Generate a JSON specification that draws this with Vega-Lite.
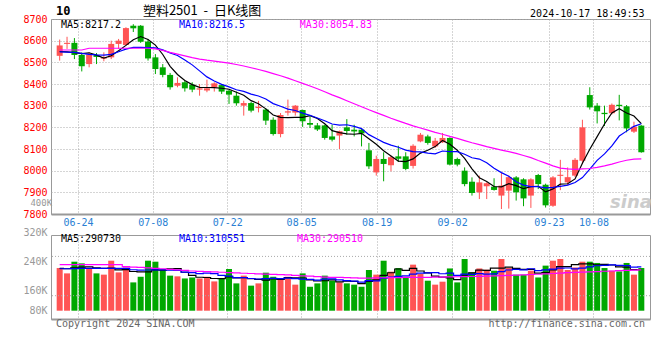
{
"$schema": "https://vega.github.io/schema/vega-lite/v6.json",
"padding": {"left": 22, "top": 4, "right": 0, "bottom": 0},
"background": "white",
"config": {"view": {"stroke": "#999999", "strokeWidth": 1}, "font": "DejaVu Sans Mono", "axis": {"labelOverlap": false}},
"spacing": 21,
"bounds": "flush",
"datasets": {"k": [
{"i":0,"d":"06-19","o":8530,"h":8605,"l":8508,"c":8578,"v":303000,"m5":8550,"m10":8548,"m30":8557,"vm5":300000,"vm10":298000,"vm30":327000},
{"i":1,"d":"06-20","o":8585,"h":8618,"l":8562,"c":8590,"v":265000,"m5":8548,"m10":8547,"m30":8557,"vm5":298000,"vm10":298000,"vm30":327000},
{"i":2,"d":"06-21","o":8590,"h":8612,"l":8515,"c":8534,"v":348000,"m5":8545,"m10":8546,"m30":8557,"vm5":305000,"vm10":299000,"vm30":327000},
{"i":3,"d":"06-24","o":8534,"h":8546,"l":8458,"c":8482,"v":336000,"m5":8540,"m10":8541,"m30":8557,"vm5":310000,"vm10":300000,"vm30":327000},
{"i":4,"d":"06-25","o":8492,"h":8546,"l":8477,"c":8536,"v":303000,"m5":8544,"m10":8537,"m30":8565,"vm5":311000,"vm10":300000,"vm30":327000},
{"i":5,"d":"06-26","o":8534,"h":8543,"l":8492,"c":8525,"v":265000,"m5":8533.4,"m10":8534,"m30":8565,"vm5":303400,"vm10":300000,"vm30":327000},
{"i":6,"d":"06-27","o":8517,"h":8546,"l":8505,"c":8523,"v":256000,"m5":8520,"m10":8533,"m30":8565,"vm5":301600,"vm10":301000,"vm30":327000},
{"i":7,"d":"06-28","o":8523,"h":8600,"l":8515,"c":8585,"v":355000,"m5":8530.2,"m10":8537,"m30":8565,"vm5":303000,"vm10":301000,"vm30":327000},
{"i":8,"d":"07-01","o":8585,"h":8608,"l":8562,"c":8600,"v":272000,"m5":8553.8,"m10":8549,"m30":8565,"vm5":290200,"vm10":301000,"vm30":327000},
{"i":9,"d":"07-02","o":8580,"h":8662,"l":8577,"c":8658,"v":307000,"m5":8578.2,"m10":8561.1,"m30":8565,"vm5":291000,"vm10":301000,"vm30":313000},
{"i":10,"d":"07-03","o":8669,"h":8676,"l":8640,"c":8657,"v":201000,"m5":8604.6,"m10":8569,"m30":8565,"vm5":278200,"vm10":290800,"vm30":310000},
{"i":11,"d":"07-04","o":8669,"h":8672,"l":8590,"c":8595,"v":241000,"m5":8619,"m10":8569.5,"m30":8565,"vm5":275200,"vm10":288400,"vm30":307000},
{"i":12,"d":"07-05","o":8596,"h":8608,"l":8508,"c":8518,"v":355000,"m5":8605.6,"m10":8567.9,"m30":8565,"vm5":275200,"vm10":289100,"vm30":304000},
{"i":13,"d":"07-08","o":8523,"h":8538,"l":8446,"c":8469,"v":348000,"m5":8579.4,"m10":8566.6,"m30":8562,"vm5":290400,"vm10":290300,"vm30":301000},
{"i":14,"d":"07-09","o":8477,"h":8492,"l":8431,"c":8442,"v":296000,"m5":8536.2,"m10":8557.2,"m30":8555,"vm5":288200,"vm10":289600,"vm30":298000},
{"i":15,"d":"07-10","o":8442,"h":8451,"l":8374,"c":8385,"v":249000,"m5":8481.8,"m10":8543.2,"m30":8546,"vm5":297800,"vm10":288000,"vm30":294000},
{"i":16,"d":"07-11","o":8392,"h":8431,"l":8385,"c":8405,"v":244000,"m5":8443.8,"m10":8531.4,"m30":8538,"vm5":298400,"vm10":286800,"vm30":290000},
{"i":17,"d":"07-12","o":8408,"h":8415,"l":8365,"c":8380,"v":229000,"m5":8416.2,"m10":8510.9,"m30":8530,"vm5":273200,"vm10":274200,"vm30":286000},
{"i":18,"d":"07-15","o":8397,"h":8408,"l":8362,"c":8374,"v":236000,"m5":8397.2,"m10":8488.3,"m30":8522,"vm5":250800,"vm10":270600,"vm30":282000},
{"i":19,"d":"07-16","o":8374,"h":8400,"l":8346,"c":8380,"v":229000,"m5":8384.8,"m10":8460.5,"m30":8515,"vm5":237400,"vm10":262800,"vm30":279000},
{"i":20,"d":"07-17","o":8370,"h":8420,"l":8362,"c":8380,"v":241000,"m5":8383.8,"m10":8432.8,"m30":8510,"vm5":235800,"vm10":266800,"vm30":277000},
{"i":21,"d":"07-18","o":8385,"h":8408,"l":8365,"c":8403,"v":208000,"m5":8383.4,"m10":8413.6,"m30":8506,"vm5":228600,"vm10":263500,"vm30":275000},
{"i":22,"d":"07-19","o":8395,"h":8400,"l":8354,"c":8365,"v":225000,"m5":8380.4,"m10":8398.3,"m30":8501,"vm5":227800,"vm10":250500,"vm30":273000},
{"i":23,"d":"07-22","o":8369,"h":8374,"l":8308,"c":8351,"v":296000,"m5":8375.8,"m10":8386.5,"m30":8496,"vm5":239800,"vm10":245300,"vm30":271000},
{"i":24,"d":"07-23","o":8346,"h":8365,"l":8300,"c":8311,"v":194000,"m5":8362,"m10":8373.4,"m30":8490,"vm5":232800,"vm10":235100,"vm30":269000},
{"i":25,"d":"07-24","o":8300,"h":8323,"l":8254,"c":8312,"v":249000,"m5":8348.4,"m10":8366.1,"m30":8483,"vm5":234400,"vm10":235100,"vm30":266000},
{"i":26,"d":"07-25","o":8312,"h":8318,"l":8269,"c":8277,"v":178000,"m5":8323.2,"m10":8353.3,"m30":8475,"vm5":228400,"vm10":228500,"vm30":264000},
{"i":27,"d":"07-26","o":8289,"h":8322,"l":8269,"c":8295,"v":194000,"m5":8309.2,"m10":8344.8,"m30":8467,"vm5":222200,"vm10":225000,"vm30":262000},
{"i":28,"d":"07-29","o":8282,"h":8288,"l":8211,"c":8231,"v":270000,"m5":8285.2,"m10":8330.5,"m30":8458,"vm5":217000,"vm10":228400,"vm30":260000},
{"i":29,"d":"07-30","o":8235,"h":8246,"l":8162,"c":8169,"v":241000,"m5":8256.8,"m10":8309.4,"m30":8448,"vm5":226400,"vm10":229600,"vm30":258000},
{"i":30,"d":"07-31","o":8169,"h":8266,"l":8154,"c":8257,"v":229000,"m5":8245.8,"m10":8297.1,"m30":8438,"vm5":222400,"vm10":228400,"vm30":256000},
{"i":31,"d":"08-01","o":8268,"h":8328,"l":8254,"c":8274,"v":241000,"m5":8245.2,"m10":8284.2,"m30":8427,"vm5":235000,"vm10":231700,"vm30":254000},
{"i":32,"d":"08-02","o":8268,"h":8303,"l":8254,"c":8300,"v":185000,"m5":8246.2,"m10":8277.7,"m30":8415,"vm5":233200,"vm10":227700,"vm30":251000},
{"i":33,"d":"08-05","o":8280,"h":8282,"l":8202,"c":8228,"v":265000,"m5":8245.6,"m10":8265.4,"m30":8403,"vm5":232200,"vm10":224600,"vm30":248000},
{"i":34,"d":"08-06","o":8220,"h":8250,"l":8197,"c":8212,"v":170000,"m5":8254.2,"m10":8255.5,"m30":8391,"vm5":218000,"vm10":222200,"vm30":245000},
{"i":35,"d":"08-07","o":8209,"h":8220,"l":8183,"c":8190,"v":194000,"m5":8240.8,"m10":8243.3,"m30":8378,"vm5":211000,"vm10":216700,"vm30":242000},
{"i":36,"d":"08-08","o":8209,"h":8212,"l":8143,"c":8151,"v":249000,"m5":8216.2,"m10":8230.7,"m30":8364,"vm5":212600,"vm10":223800,"vm30":239000},
{"i":37,"d":"08-09","o":8158,"h":8212,"l":8135,"c":8143,"v":213000,"m5":8184.8,"m10":8215.5,"m30":8350,"vm5":218200,"vm10":225700,"vm30":237000},
{"i":38,"d":"08-12","o":8162,"h":8185,"l":8100,"c":8182,"v":201000,"m5":8175.6,"m10":8210.6,"m30":8337,"vm5":205400,"vm10":218800,"vm30":236000},
{"i":39,"d":"08-13","o":8200,"h":8238,"l":8166,"c":8183,"v":194000,"m5":8169.8,"m10":8212,"m30":8323,"vm5":210200,"vm10":214100,"vm30":235000},
{"i":40,"d":"08-14","o":8189,"h":8212,"l":8158,"c":8181,"v":185000,"m5":8168,"m10":8204.4,"m30":8309,"vm5":208400,"vm10":209700,"vm30":233000},
{"i":41,"d":"08-15","o":8189,"h":8192,"l":8112,"c":8172,"v":170000,"m5":8172.2,"m10":8194.2,"m30":8295,"vm5":192600,"vm10":202600,"vm30":232000},
{"i":42,"d":"08-16","o":8094,"h":8128,"l":8008,"c":8020,"v":289000,"m5":8147.6,"m10":8166.2,"m30":8281,"vm5":207800,"vm10":213000,"vm30":232000},
{"i":43,"d":"08-19","o":7992,"h":8069,"l":7977,"c":8054,"v":256000,"m5":8122,"m10":8148.8,"m30":8268,"vm5":218800,"vm10":212100,"vm30":233000},
{"i":44,"d":"08-20","o":8054,"h":8085,"l":7951,"c":8031,"v":355000,"m5":8091.6,"m10":8130.7,"m30":8255,"vm5":251000,"vm10":230600,"vm30":234000},
{"i":45,"d":"08-21","o":8025,"h":8069,"l":7997,"c":8062,"v":277000,"m5":8067.8,"m10":8117.9,"m30":8242,"vm5":269400,"vm10":238900,"vm30":235000},
{"i":46,"d":"08-22","o":8066,"h":8115,"l":8040,"c":8055,"v":303000,"m5":8044.4,"m10":8108.3,"m30":8230,"vm5":296000,"vm10":244300,"vm30":235000},
{"i":47,"d":"08-23","o":8066,"h":8085,"l":8002,"c":8008,"v":241000,"m5":8042,"m10":8094.8,"m30":8218,"vm5":286400,"vm10":247100,"vm30":236000},
{"i":48,"d":"08-26","o":8022,"h":8122,"l":8010,"c":8115,"v":327000,"m5":8054.2,"m10":8088.1,"m30":8207,"vm5":300600,"vm10":259700,"vm30":236000},
{"i":49,"d":"08-27","o":8135,"h":8174,"l":8131,"c":8166,"v":261000,"m5":8081.2,"m10":8086.4,"m30":8197,"vm5":281800,"vm10":266400,"vm30":237000},
{"i":50,"d":"08-28","o":8158,"h":8166,"l":8120,"c":8128,"v":213000,"m5":8094.4,"m10":8081.1,"m30":8187,"vm5":269000,"vm10":269200,"vm30":237000},
{"i":51,"d":"08-29","o":8112,"h":8151,"l":8105,"c":8138,"v":185000,"m5":8111,"m10":8077.7,"m30":8177,"vm5":245400,"vm10":270700,"vm30":238000},
{"i":52,"d":"08-30","o":8131,"h":8174,"l":8128,"c":8151,"v":206000,"m5":8139.6,"m10":8090.8,"m30":8168,"vm5":238400,"vm10":262400,"vm30":239000},
{"i":53,"d":"09-02","o":8151,"h":8154,"l":8024,"c":8028,"v":300000,"m5":8122.2,"m10":8088.2,"m30":8158,"vm5":233000,"vm10":266800,"vm30":240000},
{"i":54,"d":"09-03","o":8054,"h":8060,"l":8020,"c":8028,"v":201000,"m5":8094.6,"m10":8087.9,"m30":8149,"vm5":221000,"vm10":251400,"vm30":241000},
{"i":55,"d":"09-04","o":8000,"h":8015,"l":7928,"c":7938,"v":367000,"m5":8056.6,"m10":8075.5,"m30":8139,"vm5":251800,"vm10":260400,"vm30":242000},
{"i":56,"d":"09-05","o":7949,"h":7969,"l":7885,"c":7897,"v":272000,"m5":8008.4,"m10":8059.7,"m30":8129,"vm5":269200,"vm10":257300,"vm30":243000},
{"i":57,"d":"09-06","o":7900,"h":7977,"l":7869,"c":7946,"v":300000,"m5":7967.4,"m10":8053.5,"m30":8120,"vm5":288000,"vm10":263200,"vm30":244000},
{"i":58,"d":"09-09","o":7928,"h":7946,"l":7869,"c":7942,"v":291000,"m5":7950.2,"m10":8036.2,"m30":8111,"vm5":286200,"vm10":259600,"vm30":246000},
{"i":59,"d":"09-10","o":7926,"h":7965,"l":7908,"c":7911,"v":284000,"m5":7926.8,"m10":8010.7,"m30":8103,"vm5":302800,"vm10":261900,"vm30":247000},
{"i":60,"d":"09-11","o":7885,"h":7990,"l":7823,"c":7931,"v":367000,"m5":7925.4,"m10":7991,"m30":8095,"vm5":302800,"vm10":277300,"vm30":249000},
{"i":61,"d":"09-12","o":7908,"h":7977,"l":7825,"c":7970,"v":303000,"m5":7940,"m10":7974.2,"m30":8088,"vm5":309000,"vm10":289100,"vm30":251000},
{"i":62,"d":"09-13","o":7969,"h":7975,"l":7862,"c":7900,"v":256000,"m5":7930.8,"m10":7949.1,"m30":8080,"vm5":300200,"vm10":294100,"vm30":253000},
{"i":63,"d":"09-18","o":7960,"h":7965,"l":7836,"c":7872,"v":256000,"m5":7916.8,"m10":7933.5,"m30":8070,"vm5":293200,"vm10":289700,"vm30":255000},
{"i":64,"d":"09-19","o":7885,"h":7965,"l":7828,"c":7960,"v":284000,"m5":7926.6,"m10":7926.7,"m30":8060,"vm5":293200,"vm10":298000,"vm30":257000},
{"i":65,"d":"09-20","o":7980,"h":7985,"l":7915,"c":7938,"v":236000,"m5":7928,"m10":7926.7,"m30":8047,"vm5":267000,"vm10":284900,"vm30":259000},
{"i":66,"d":"09-23","o":7935,"h":7940,"l":7830,"c":7840,"v":320000,"m5":7902,"m10":7921,"m30":8035,"vm5":270400,"vm10":289700,"vm30":261000},
{"i":67,"d":"09-24","o":7838,"h":7975,"l":7833,"c":7969,"v":355000,"m5":7915.8,"m10":7923.3,"m30":8022,"vm5":290200,"vm10":295200,"vm30":264000},
{"i":68,"d":"09-25","o":7976,"h":8050,"l":7910,"c":7981,"v":367000,"m5":7937.6,"m10":7927.2,"m30":8012,"vm5":312400,"vm10":302800,"vm30":267000},
{"i":69,"d":"09-26","o":7946,"h":8015,"l":7932,"c":7970,"v":289000,"m5":7939.6,"m10":7933.1,"m30":8008,"vm5":313400,"vm10":303300,"vm30":270000},
{"i":70,"d":"09-27","o":7977,"h":8058,"l":7970,"c":8050,"v":307000,"m5":7962,"m10":7945,"m30":8006,"vm5":327600,"vm10":297300,"vm30":272000},
{"i":71,"d":"09-30","o":8046,"h":8235,"l":8031,"c":8200,"v":348000,"m5":8034,"m10":7968,"m30":8008,"vm5":333200,"vm10":301800,"vm30":274000},
{"i":72,"d":"10-08","o":8349,"h":8385,"l":8282,"c":8292,"v":348000,"m5":8098.6,"m10":8007.2,"m30":8010,"vm5":331800,"vm10":311000,"vm30":276000},
{"i":73,"d":"10-09","o":8300,"h":8312,"l":8218,"c":8274,"v":339000,"m5":8157.2,"m10":8047.4,"m30":8015,"vm5":326200,"vm10":319300,"vm30":278000},
{"i":74,"d":"10-10","o":8267,"h":8300,"l":8206,"c":8261,"v":303000,"m5":8215.4,"m10":8077.5,"m30":8022,"vm5":329000,"vm10":321200,"vm30":280000},
{"i":75,"d":"10-11","o":8265,"h":8310,"l":8260,"c":8304,"v":284000,"m5":8266.2,"m10":8114.1,"m30":8030,"vm5":324400,"vm10":326000,"vm30":282000},
{"i":76,"d":"10-14","o":8304,"h":8350,"l":8232,"c":8298,"v":279000,"m5":8285.8,"m10":8159.9,"m30":8040,"vm5":310600,"vm10":321900,"vm30":284000},
{"i":77,"d":"10-15","o":8297,"h":8303,"l":8177,"c":8195,"v":339000,"m5":8266.4,"m10":8182.5,"m30":8048,"vm5":308800,"vm10":320300,"vm30":286000},
{"i":78,"d":"10-16","o":8180,"h":8226,"l":8174,"c":8203,"v":256000,"m5":8252.2,"m10":8204.7,"m30":8053,"vm5":292200,"vm10":309200,"vm30":288000},
{"i":79,"d":"10-17","o":8208,"h":8210,"l":8083,"c":8085,"v":303000,"m5":8217.2,"m10":8216.5,"m30":8054.8,"vm5":290700,"vm10":310600,"vm30":290500}
]},
"vconcat": [
{
 "width": 599, "height": 195,
 "data": {"name": "k"},
 "resolve": {"axis": {"x": "independent", "y": "independent"}},
 "layer": [
  {"mark": {"type": "rule", "strokeWidth": 1},
   "encoding": {
    "x": {"field": "i", "type": "quantitative", "scale": {"domain": [-0.5, 79.5], "nice": false, "zero": false},
      "axis": {"values": [2.5, 12.65, 22.75, 32.8, 43.05, 53.3, 66.45, 72.5],
        "labelExpr": "datum.value < 5 ? '06-24' : datum.value < 15 ? '07-08' : datum.value < 25 ? '07-22' : datum.value < 35 ? '08-05' : datum.value < 45 ? '08-19' : datum.value < 60 ? '09-02' : datum.value < 70 ? '09-23' : '10-08'",
        "title": null, "ticks": false, "tickSize": 0, "domain": true, "domainColor": "#999999", "domainWidth": 2,
        "grid": true, "gridColor": "#aaaaaa", "gridDash": [1, 2], "labelColor": "#2a7fd4", "labelFont": "DejaVu Sans Mono",
        "labelFontSize": 10, "labelPadding": 3, "labelFlush": false, "labelOverlap": false}},
    "y": {"field": "l", "type": "quantitative", "scale": {"domain": [7800, 8700], "nice": false, "zero": false},
      "axis": {"values": [7800, 7900, 8000, 8100, 8200, 8300, 8400, 8500, 8600, 8700], "format": "d",
        "title": null, "ticks": false, "tickSize": 0, "domain": false, "grid": true, "gridColor": "#aaaaaa", "gridDash": [1, 2],
        "labelColor": "#ff0000", "labelFont": "DejaVu Sans Mono", "labelFontSize": 10, "labelPadding": 4, "labelOverlap": false}},
    "y2": {"field": "h"},
    "color": {"condition": {"test": "datum.c >= datum.o", "value": "#ff5454"}, "value": "#00a800"}
   }},
  {"mark": {"type": "bar", "width": 6},
   "encoding": {
    "x": {"field": "i", "type": "quantitative", "axis": null},
    "y": {"field": "o", "type": "quantitative", "axis": null},
    "y2": {"field": "c"},
    "color": {"condition": {"test": "datum.c >= datum.o", "value": "#ff5454"}, "value": "#00a800"}
   }},
  {"mark": {"type": "line", "color": "#000000", "strokeWidth": 1.2},
   "encoding": {"x": {"field": "i", "type": "quantitative", "axis": null}, "y": {"field": "m5", "type": "quantitative", "axis": null}}},
  {"mark": {"type": "line", "color": "#0000ff", "strokeWidth": 1.2},
   "encoding": {"x": {"field": "i", "type": "quantitative", "axis": null}, "y": {"field": "m10", "type": "quantitative", "axis": null}}},
  {"mark": {"type": "line", "color": "#ff00ff", "strokeWidth": 1.2},
   "encoding": {"x": {"field": "i", "type": "quantitative", "axis": null}, "y": {"field": "m30", "type": "quantitative", "axis": null}}},
  {"data": {"values": [{}]},
   "mark": {"type": "text", "text": "MA5:8217.2", "align": "left", "baseline": "middle", "font": "DejaVu Sans Mono", "fontSize": 10, "color": "#000000"},
   "encoding": {"x": {"datum": 0.17, "type": "quantitative", "axis": null}, "y": {"datum": 8673.7, "type": "quantitative", "axis": null}}},
  {"data": {"values": [{}]},
   "mark": {"type": "text", "text": "MA10:8216.5", "align": "left", "baseline": "middle", "font": "DejaVu Sans Mono", "fontSize": 10, "color": "#0000ff"},
   "encoding": {"x": {"datum": 16.19, "type": "quantitative", "axis": null}, "y": {"datum": 8673.7, "type": "quantitative", "axis": null}}},
  {"data": {"values": [{}]},
   "mark": {"type": "text", "text": "MA30:8054.83", "align": "left", "baseline": "middle", "font": "DejaVu Sans Mono", "fontSize": 10, "color": "#ff00ff"},
   "encoding": {"x": {"datum": 32.62, "type": "quantitative", "axis": null}, "y": {"datum": 8673.7, "type": "quantitative", "axis": null}}},
  {"data": {"values": [{}]},
   "mark": {"type": "text", "text": "10", "align": "left", "baseline": "middle", "font": "DejaVu Sans Mono", "fontSize": 12, "fontWeight": "bold", "color": "#000000"},
   "encoding": {"x": {"datum": -0.5, "type": "quantitative", "axis": null}, "y": {"datum": 8736, "type": "quantitative", "axis": null}}},
  {"data": {"values": [{}]},
   "mark": {"type": "text", "text": "塑料2501\u00a0\u00a0-\u00a0\u00a0日K线图", "align": "left", "baseline": "middle", "font": "Noto Sans CJK SC", "fontSize": 13, "color": "#000000"},
   "encoding": {"x": {"datum": 11.3, "type": "quantitative", "axis": null}, "y": {"datum": 8738.3, "type": "quantitative", "axis": null}}},
  {"data": {"values": [{}]},
   "mark": {"type": "text", "text": "2024-10-17 18:49:53", "align": "right", "baseline": "middle", "font": "DejaVu Sans Mono", "fontSize": 10, "color": "#000000"},
   "encoding": {"x": {"datum": 79.43, "type": "quantitative", "axis": null}, "y": {"datum": 8724.5, "type": "quantitative", "axis": null}}},
  {"data": {"values": [{}]},
   "mark": {"type": "text", "text": "400K", "align": "right", "baseline": "middle", "font": "DejaVu Sans Mono", "fontSize": 9, "color": "#999999"},
   "encoding": {"x": {"datum": -1.03, "type": "quantitative", "axis": null}, "y": {"datum": 7850, "type": "quantitative", "axis": null}}},
  {"data": {"values": [{}]},
   "mark": {"type": "text", "text": "sina", "align": "center", "baseline": "middle", "font": "DejaVu Sans", "fontSize": 18, "fontStyle": "italic", "fontWeight": "bold", "color": "#cccccc"},
   "encoding": {"x": {"datum": 77.6, "type": "quantitative", "axis": null}, "y": {"datum": 7850, "type": "quantitative", "axis": null}}}
 ]
},
{
 "width": 599, "height": 84,
 "data": {"name": "k"},
 "resolve": {"axis": {"x": "independent", "y": "independent"}},
 "layer": [
  {"mark": {"type": "bar", "width": 6},
   "encoding": {
    "x": {"field": "i", "type": "quantitative", "scale": {"domain": [-0.5, 79.5], "nice": false, "zero": false},
      "axis": {"values": [2.5, 12.65, 22.75, 32.8, 43.05, 53.3, 66.45, 72.5], "labels": false, "ticks": false, "tickSize": 0,
        "domain": true, "domainColor": "#999999", "domainWidth": 2, "grid": true, "gridColor": "#aaaaaa", "gridDash": [1, 2], "title": null}},
    "y": {"field": "v", "type": "quantitative", "scale": {"domain": [-58900, 537500], "nice": false, "zero": false},
      "axis": {"values": [0, 142000, 350000, 537500],
        "labelExpr": "datum.value > 500000 ? '320K' : datum.value > 300000 ? '240K' : datum.value > 100000 ? '160K' : '80K'",
        "title": null, "ticks": false, "tickSize": 0, "domain": false, "grid": false, "labelColor": "#999999",
        "labelFont": "DejaVu Sans Mono", "labelFontSize": 10, "labelPadding": 4, "labelOverlap": false,
        "labelBaseline": {"condition": {"test": "datum.value > 500000", "value": "alphabetic"}, "value": "middle"}}},
    "y2": {"datum": 0},
    "color": {"condition": {"test": "datum.c >= datum.o", "value": "#ff5454"}, "value": "#00a800"}
   }},
  {"data": {"values": [{}]},
   "mark": {"type": "rule", "color": "#aaaaaa", "strokeDash": [1, 2], "strokeWidth": 1},
   "encoding": {"y": {"datum": 385500, "type": "quantitative", "axis": null}}},
  {"data": {"values": [{}]},
   "mark": {"type": "rule", "color": "#aaaaaa", "strokeDash": [1, 2], "strokeWidth": 1},
   "encoding": {"y": {"datum": 106500, "type": "quantitative", "axis": null}}},
  {"mark": {"type": "line", "color": "#000000", "strokeWidth": 1.2, "interpolate": "step"},
   "encoding": {"x": {"field": "i", "type": "quantitative", "axis": null}, "y": {"field": "vm5", "type": "quantitative", "axis": null}}},
  {"mark": {"type": "line", "color": "#0000ff", "strokeWidth": 1.2, "interpolate": "step"},
   "encoding": {"x": {"field": "i", "type": "quantitative", "axis": null}, "y": {"field": "vm10", "type": "quantitative", "axis": null}}},
  {"mark": {"type": "line", "color": "#ff00ff", "strokeWidth": 1.2, "interpolate": "step"},
   "encoding": {"x": {"field": "i", "type": "quantitative", "axis": null}, "y": {"field": "vm30", "type": "quantitative", "axis": null}}},
  {"data": {"values": [{}]},
   "mark": {"type": "text", "text": "MA5:290730", "align": "left", "baseline": "middle", "font": "DejaVu Sans Mono", "fontSize": 10, "color": "#000000"},
   "encoding": {"x": {"datum": 0.17, "type": "quantitative", "axis": null}, "y": {"datum": 511000, "type": "quantitative", "axis": null}}},
  {"data": {"values": [{}]},
   "mark": {"type": "text", "text": "MA10:310551", "align": "left", "baseline": "middle", "font": "DejaVu Sans Mono", "fontSize": 10, "color": "#0000ff"},
   "encoding": {"x": {"datum": 16.19, "type": "quantitative", "axis": null}, "y": {"datum": 511000, "type": "quantitative", "axis": null}}},
  {"data": {"values": [{}]},
   "mark": {"type": "text", "text": "MA30:290510", "align": "left", "baseline": "middle", "font": "DejaVu Sans Mono", "fontSize": 10, "color": "#ff00ff"},
   "encoding": {"x": {"datum": 32.22, "type": "quantitative", "axis": null}, "y": {"datum": 511000, "type": "quantitative", "axis": null}}},
  {"data": {"values": [{}]},
   "mark": {"type": "text", "text": "Copyright 2024 SINA.COM", "align": "left", "baseline": "middle", "font": "DejaVu Sans Mono", "fontSize": 10, "color": "#666666"},
   "encoding": {"x": {"datum": -0.5, "type": "quantitative", "axis": null}, "y": {"datum": -95900, "type": "quantitative", "axis": null}}},
  {"data": {"values": [{}]},
   "mark": {"type": "text", "text": "http://finance.sina.com.cn", "align": "right", "baseline": "middle", "font": "DejaVu Sans Mono", "fontSize": 10, "color": "#666666"},
   "encoding": {"x": {"datum": 79.5, "type": "quantitative", "axis": null}, "y": {"datum": -95900, "type": "quantitative", "axis": null}}}
 ]
}
]
}
